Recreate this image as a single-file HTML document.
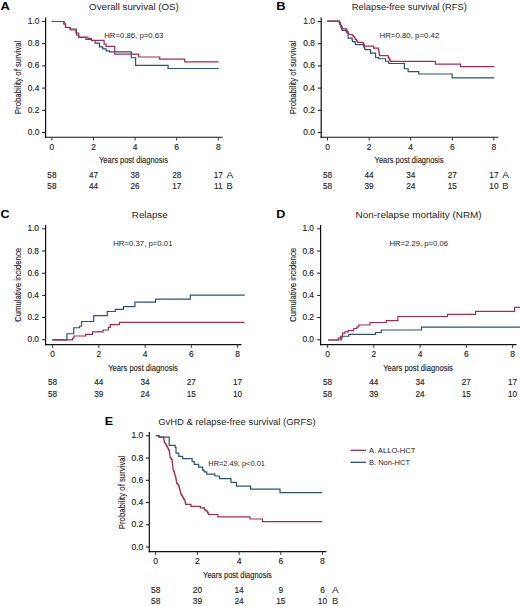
<!DOCTYPE html>
<html><head><meta charset="utf-8"><style>
html,body{margin:0;padding:0;background:#fff;}
svg{display:block;}
text{font-family:"Liberation Sans", sans-serif;}
.b{stroke:#1e1e1e;stroke-width:0.14px;}
</style></head><body>
<svg width="520" height="606" viewBox="0 0 520 606">
<rect width="520" height="606" fill="#fff"/>
<text x="0.42" y="10.00" font-size="11.2" font-weight="bold" fill="#000" textLength="9.37" lengthAdjust="spacingAndGlyphs">A</text>
<text x="89.08" y="10.40" font-size="8.9" font-weight="normal" fill="#1e1e1e" textLength="89.75" lengthAdjust="spacingAndGlyphs">Overall survival (OS)</text>
<text x="104.27" y="38.10" font-size="7.6" font-weight="normal" fill="#1e1e1e" textLength="59.06" lengthAdjust="spacingAndGlyphs">HR=0.86, p=0.63</text>
<line x1="45.60" y1="17.50" x2="45.60" y2="137.90" stroke="#111" stroke-width="1.2"/>
<line x1="45.00" y1="137.30" x2="222.70" y2="137.30" stroke="#111" stroke-width="1.1"/>
<line x1="42.20" y1="21.50" x2="45.60" y2="21.50" stroke="#111" stroke-width="1.0"/>
<text class="b" x="39.30" y="24.00" font-size="8.3" fill="#1e1e1e" text-anchor="end">1.0</text>
<line x1="42.20" y1="43.70" x2="45.60" y2="43.70" stroke="#111" stroke-width="1.0"/>
<text class="b" x="39.30" y="46.20" font-size="8.3" fill="#1e1e1e" text-anchor="end">0.8</text>
<line x1="42.20" y1="65.90" x2="45.60" y2="65.90" stroke="#111" stroke-width="1.0"/>
<text class="b" x="39.30" y="68.40" font-size="8.3" fill="#1e1e1e" text-anchor="end">0.6</text>
<line x1="42.20" y1="88.10" x2="45.60" y2="88.10" stroke="#111" stroke-width="1.0"/>
<text class="b" x="39.30" y="90.60" font-size="8.3" fill="#1e1e1e" text-anchor="end">0.4</text>
<line x1="42.20" y1="110.30" x2="45.60" y2="110.30" stroke="#111" stroke-width="1.0"/>
<text class="b" x="39.30" y="112.80" font-size="8.3" fill="#1e1e1e" text-anchor="end">0.2</text>
<line x1="42.20" y1="132.50" x2="45.60" y2="132.50" stroke="#111" stroke-width="1.0"/>
<text class="b" x="39.30" y="135.00" font-size="8.3" fill="#1e1e1e" text-anchor="end">0.0</text>
<line x1="51.90" y1="137.30" x2="51.90" y2="140.50" stroke="#333" stroke-width="1.0"/>
<text class="b" x="51.90" y="149.80" font-size="8.4" fill="#1e1e1e" text-anchor="middle">0</text>
<line x1="93.50" y1="137.30" x2="93.50" y2="140.50" stroke="#333" stroke-width="1.0"/>
<text class="b" x="93.50" y="149.80" font-size="8.4" fill="#1e1e1e" text-anchor="middle">2</text>
<line x1="135.10" y1="137.30" x2="135.10" y2="140.50" stroke="#333" stroke-width="1.0"/>
<text class="b" x="135.10" y="149.80" font-size="8.4" fill="#1e1e1e" text-anchor="middle">4</text>
<line x1="176.70" y1="137.30" x2="176.70" y2="140.50" stroke="#333" stroke-width="1.0"/>
<text class="b" x="176.70" y="149.80" font-size="8.4" fill="#1e1e1e" text-anchor="middle">6</text>
<line x1="218.30" y1="137.30" x2="218.30" y2="140.50" stroke="#333" stroke-width="1.0"/>
<text class="b" x="218.30" y="149.80" font-size="8.4" fill="#1e1e1e" text-anchor="middle">8</text>
<text class="b" x="20.70" y="77.40" font-size="9.3" fill="#1e1e1e" text-anchor="middle" textLength="73.50" lengthAdjust="spacingAndGlyphs" transform="rotate(-90 20.70 77.40)">Probability of survival</text>
<text class="b" x="98.97" y="163.10" font-size="9.0" font-weight="normal" fill="#1e1e1e" textLength="68.96" lengthAdjust="spacingAndGlyphs">Years post diagnosis</text>
<text class="b" x="51.90" y="177.90" font-size="8.2" fill="#1e1e1e" text-anchor="middle">58</text>
<text class="b" x="93.50" y="177.90" font-size="8.2" fill="#1e1e1e" text-anchor="middle">47</text>
<text class="b" x="135.10" y="177.90" font-size="8.2" fill="#1e1e1e" text-anchor="middle">38</text>
<text class="b" x="176.70" y="177.90" font-size="8.2" fill="#1e1e1e" text-anchor="middle">28</text>
<text class="b" x="218.30" y="177.90" font-size="8.2" fill="#1e1e1e" text-anchor="middle">17</text>
<text x="226.63" y="177.90" font-size="8.2" font-weight="normal" fill="#1e1e1e" textLength="6.75" lengthAdjust="spacingAndGlyphs">A</text>
<text class="b" x="51.90" y="189.10" font-size="8.2" fill="#1e1e1e" text-anchor="middle">58</text>
<text class="b" x="93.50" y="189.10" font-size="8.2" fill="#1e1e1e" text-anchor="middle">44</text>
<text class="b" x="135.10" y="189.10" font-size="8.2" fill="#1e1e1e" text-anchor="middle">26</text>
<text class="b" x="176.70" y="189.10" font-size="8.2" fill="#1e1e1e" text-anchor="middle">17</text>
<text class="b" x="218.30" y="189.10" font-size="8.2" fill="#1e1e1e" text-anchor="middle">11</text>
<text x="226.63" y="189.10" font-size="8.2" font-weight="normal" fill="#1e1e1e" textLength="6.25" lengthAdjust="spacingAndGlyphs">B</text>
<polyline points="52.00,21.50 64.00,21.50 64.00,24.00 65.50,24.00 65.50,27.50 70.00,27.50 70.00,29.00 76.50,29.00 76.50,35.00 78.70,35.00 78.70,37.50 86.00,37.50 86.00,39.50 91.50,39.50 91.50,40.50 95.10,40.50 95.10,43.10 99.40,43.10 99.40,46.90 102.80,46.90 102.80,48.80 106.20,48.80 106.20,50.80 109.40,50.80 109.40,51.90 131.25,51.90 131.25,57.75 135.60,57.75 135.60,65.40 168.10,65.40 168.10,68.50 218.70,68.50 218.70,68.50" fill="none" stroke="#2b5470" stroke-width="1.2" stroke-linejoin="miter" stroke-linecap="butt"/>
<polyline points="52.00,21.50 64.00,21.50 64.00,24.00 65.50,24.00 65.50,27.30 70.40,27.30 70.40,30.00 76.00,30.00 76.00,33.00 78.70,33.00 78.70,37.00 88.00,37.00 88.00,38.50 91.50,38.50 91.50,40.40 104.10,40.40 104.10,44.20 106.00,44.20 106.00,46.40 114.70,46.40 114.70,54.10 138.70,54.10 138.70,57.00 159.70,57.00 159.70,59.10 184.70,59.10 184.70,61.90 218.70,61.90 218.70,61.90" fill="none" stroke="#a82a4e" stroke-width="1.2" stroke-linejoin="miter" stroke-linecap="butt"/>
<text x="276.22" y="10.00" font-size="11.2" font-weight="bold" fill="#000" textLength="9.37" lengthAdjust="spacingAndGlyphs">B</text>
<text x="351.88" y="10.40" font-size="8.9" font-weight="normal" fill="#1e1e1e" textLength="115.00" lengthAdjust="spacingAndGlyphs">Relapse-free survival (RFS)</text>
<text x="379.47" y="38.10" font-size="7.6" font-weight="normal" fill="#1e1e1e" textLength="59.81" lengthAdjust="spacingAndGlyphs">HR=0.80, p=0.42</text>
<line x1="321.20" y1="17.50" x2="321.20" y2="137.90" stroke="#111" stroke-width="1.2"/>
<line x1="320.60" y1="137.30" x2="498.30" y2="137.30" stroke="#111" stroke-width="1.1"/>
<line x1="317.80" y1="21.50" x2="321.20" y2="21.50" stroke="#111" stroke-width="1.0"/>
<text class="b" x="314.90" y="24.00" font-size="8.3" fill="#1e1e1e" text-anchor="end">1.0</text>
<line x1="317.80" y1="43.70" x2="321.20" y2="43.70" stroke="#111" stroke-width="1.0"/>
<text class="b" x="314.90" y="46.20" font-size="8.3" fill="#1e1e1e" text-anchor="end">0.8</text>
<line x1="317.80" y1="65.90" x2="321.20" y2="65.90" stroke="#111" stroke-width="1.0"/>
<text class="b" x="314.90" y="68.40" font-size="8.3" fill="#1e1e1e" text-anchor="end">0.6</text>
<line x1="317.80" y1="88.10" x2="321.20" y2="88.10" stroke="#111" stroke-width="1.0"/>
<text class="b" x="314.90" y="90.60" font-size="8.3" fill="#1e1e1e" text-anchor="end">0.4</text>
<line x1="317.80" y1="110.30" x2="321.20" y2="110.30" stroke="#111" stroke-width="1.0"/>
<text class="b" x="314.90" y="112.80" font-size="8.3" fill="#1e1e1e" text-anchor="end">0.2</text>
<line x1="317.80" y1="132.50" x2="321.20" y2="132.50" stroke="#111" stroke-width="1.0"/>
<text class="b" x="314.90" y="135.00" font-size="8.3" fill="#1e1e1e" text-anchor="end">0.0</text>
<line x1="327.50" y1="137.30" x2="327.50" y2="140.50" stroke="#333" stroke-width="1.0"/>
<text class="b" x="327.50" y="149.80" font-size="8.4" fill="#1e1e1e" text-anchor="middle">0</text>
<line x1="369.10" y1="137.30" x2="369.10" y2="140.50" stroke="#333" stroke-width="1.0"/>
<text class="b" x="369.10" y="149.80" font-size="8.4" fill="#1e1e1e" text-anchor="middle">2</text>
<line x1="410.70" y1="137.30" x2="410.70" y2="140.50" stroke="#333" stroke-width="1.0"/>
<text class="b" x="410.70" y="149.80" font-size="8.4" fill="#1e1e1e" text-anchor="middle">4</text>
<line x1="452.30" y1="137.30" x2="452.30" y2="140.50" stroke="#333" stroke-width="1.0"/>
<text class="b" x="452.30" y="149.80" font-size="8.4" fill="#1e1e1e" text-anchor="middle">6</text>
<line x1="493.90" y1="137.30" x2="493.90" y2="140.50" stroke="#333" stroke-width="1.0"/>
<text class="b" x="493.90" y="149.80" font-size="8.4" fill="#1e1e1e" text-anchor="middle">8</text>
<text class="b" x="296.30" y="77.40" font-size="9.3" fill="#1e1e1e" text-anchor="middle" textLength="73.50" lengthAdjust="spacingAndGlyphs" transform="rotate(-90 296.30 77.40)">Probability of survival</text>
<text class="b" x="374.57" y="163.10" font-size="9.0" font-weight="normal" fill="#1e1e1e" textLength="68.96" lengthAdjust="spacingAndGlyphs">Years post diagnosis</text>
<text class="b" x="327.50" y="177.90" font-size="8.2" fill="#1e1e1e" text-anchor="middle">58</text>
<text class="b" x="369.10" y="177.90" font-size="8.2" fill="#1e1e1e" text-anchor="middle">44</text>
<text class="b" x="410.70" y="177.90" font-size="8.2" fill="#1e1e1e" text-anchor="middle">34</text>
<text class="b" x="452.30" y="177.90" font-size="8.2" fill="#1e1e1e" text-anchor="middle">27</text>
<text class="b" x="493.90" y="177.90" font-size="8.2" fill="#1e1e1e" text-anchor="middle">17</text>
<text x="502.23" y="177.90" font-size="8.2" font-weight="normal" fill="#1e1e1e" textLength="6.75" lengthAdjust="spacingAndGlyphs">A</text>
<text class="b" x="327.50" y="189.10" font-size="8.2" fill="#1e1e1e" text-anchor="middle">58</text>
<text class="b" x="369.10" y="189.10" font-size="8.2" fill="#1e1e1e" text-anchor="middle">39</text>
<text class="b" x="410.70" y="189.10" font-size="8.2" fill="#1e1e1e" text-anchor="middle">24</text>
<text class="b" x="452.30" y="189.10" font-size="8.2" fill="#1e1e1e" text-anchor="middle">15</text>
<text class="b" x="493.90" y="189.10" font-size="8.2" fill="#1e1e1e" text-anchor="middle">10</text>
<text x="502.23" y="189.10" font-size="8.2" font-weight="normal" fill="#1e1e1e" textLength="6.25" lengthAdjust="spacingAndGlyphs">B</text>
<polyline points="327.20,21.10 338.70,21.10 339.27,21.10 339.27,22.65 339.83,22.65 339.83,24.20 340.40,24.20 340.40,25.75 340.97,25.75 340.97,27.30 341.53,27.30 341.53,28.85 342.10,28.85 342.10,30.40 345.10,30.40 346.10,30.40 346.10,31.77 347.10,31.77 347.10,33.13 348.10,33.13 348.10,34.50 348.10,38.20 351.80,38.20 352.03,38.20 352.03,39.33 352.27,39.33 352.27,40.47 352.50,40.47 352.50,41.60 355.20,41.60 355.20,42.60 355.35,42.60 355.35,43.60 355.50,43.60 355.50,44.60 362.90,44.60 363.42,44.60 363.42,45.85 363.95,45.85 363.95,47.10 364.48,47.10 364.48,48.35 365.00,48.35 365.00,49.60 370.60,49.60 370.60,53.10 375.60,53.10 375.60,57.50 378.75,57.50 378.75,58.75 385.60,58.75 385.60,61.25 388.75,61.25 388.75,63.50 404.40,63.50 404.40,68.75 408.10,68.75 408.10,71.60 418.75,71.60 418.75,74.00 452.10,74.00 452.10,77.85 494.30,77.85" fill="none" stroke="#2b5470" stroke-width="1.2" stroke-linejoin="miter" stroke-linecap="butt"/>
<polyline points="327.20,21.10 338.70,21.10 339.44,21.10 339.44,22.64 340.18,22.64 340.18,24.18 340.92,24.18 340.92,25.72 341.66,25.72 341.66,27.26 342.40,27.26 342.40,28.80 345.80,28.80 346.55,28.80 346.55,30.23 347.30,30.23 347.30,31.65 348.05,31.65 348.05,33.08 348.80,33.08 348.80,34.50 351.20,34.50 352.20,34.50 352.20,35.50 353.20,35.50 353.20,36.50 354.27,36.50 354.27,37.98 355.35,37.98 355.35,39.45 356.43,39.45 356.43,40.92 357.50,40.92 357.50,42.40 362.60,42.40 363.20,42.40 363.20,43.63 363.80,43.63 363.80,44.87 364.40,44.87 364.40,46.10 373.60,46.10 373.60,48.20 378.30,48.20 378.54,48.20 378.54,49.68 378.78,49.68 378.78,51.16 379.02,51.16 379.02,52.64 379.26,52.64 379.26,54.12 379.50,54.12 379.50,55.60 387.80,55.60 388.15,55.60 388.15,56.90 388.50,56.90 388.50,58.20 389.50,58.20 389.50,59.80 390.50,59.80 390.50,61.40 435.40,61.40 435.40,64.10 460.40,64.10 460.40,66.60 494.30,66.60" fill="none" stroke="#a82a4e" stroke-width="1.2" stroke-linejoin="miter" stroke-linecap="butt"/>
<text x="0.42" y="217.50" font-size="11.2" font-weight="bold" fill="#000" textLength="9.07" lengthAdjust="spacingAndGlyphs">C</text>
<text x="131.88" y="218.00" font-size="8.9" font-weight="normal" fill="#1e1e1e" textLength="35.75" lengthAdjust="spacingAndGlyphs">Relapse</text>
<text x="113.22" y="245.60" font-size="7.6" font-weight="normal" fill="#1e1e1e" textLength="59.31" lengthAdjust="spacingAndGlyphs">HR=0.37, p=0.01</text>
<line x1="45.60" y1="225.00" x2="45.60" y2="345.20" stroke="#111" stroke-width="1.2"/>
<line x1="45.00" y1="344.60" x2="241.50" y2="344.60" stroke="#111" stroke-width="1.1"/>
<line x1="42.20" y1="228.80" x2="45.60" y2="228.80" stroke="#111" stroke-width="1.0"/>
<text class="b" x="39.00" y="231.30" font-size="8.3" fill="#1e1e1e" text-anchor="end">1.0</text>
<line x1="42.20" y1="251.00" x2="45.60" y2="251.00" stroke="#111" stroke-width="1.0"/>
<text class="b" x="39.00" y="253.50" font-size="8.3" fill="#1e1e1e" text-anchor="end">0.8</text>
<line x1="42.20" y1="273.20" x2="45.60" y2="273.20" stroke="#111" stroke-width="1.0"/>
<text class="b" x="39.00" y="275.70" font-size="8.3" fill="#1e1e1e" text-anchor="end">0.6</text>
<line x1="42.20" y1="295.40" x2="45.60" y2="295.40" stroke="#111" stroke-width="1.0"/>
<text class="b" x="39.00" y="297.90" font-size="8.3" fill="#1e1e1e" text-anchor="end">0.4</text>
<line x1="42.20" y1="317.60" x2="45.60" y2="317.60" stroke="#111" stroke-width="1.0"/>
<text class="b" x="39.00" y="320.10" font-size="8.3" fill="#1e1e1e" text-anchor="end">0.2</text>
<line x1="42.20" y1="339.80" x2="45.60" y2="339.80" stroke="#111" stroke-width="1.0"/>
<text class="b" x="39.00" y="342.30" font-size="8.3" fill="#1e1e1e" text-anchor="end">0.0</text>
<line x1="52.60" y1="344.60" x2="52.60" y2="347.80" stroke="#333" stroke-width="1.0"/>
<text class="b" x="52.60" y="357.30" font-size="8.4" fill="#1e1e1e" text-anchor="middle">0</text>
<line x1="98.85" y1="344.60" x2="98.85" y2="347.80" stroke="#333" stroke-width="1.0"/>
<text class="b" x="98.85" y="357.30" font-size="8.4" fill="#1e1e1e" text-anchor="middle">2</text>
<line x1="145.10" y1="344.60" x2="145.10" y2="347.80" stroke="#333" stroke-width="1.0"/>
<text class="b" x="145.10" y="357.30" font-size="8.4" fill="#1e1e1e" text-anchor="middle">4</text>
<line x1="191.35" y1="344.60" x2="191.35" y2="347.80" stroke="#333" stroke-width="1.0"/>
<text class="b" x="191.35" y="357.30" font-size="8.4" fill="#1e1e1e" text-anchor="middle">6</text>
<line x1="237.60" y1="344.60" x2="237.60" y2="347.80" stroke="#333" stroke-width="1.0"/>
<text class="b" x="237.60" y="357.30" font-size="8.4" fill="#1e1e1e" text-anchor="middle">8</text>
<text class="b" x="21.00" y="284.90" font-size="9.3" fill="#1e1e1e" text-anchor="middle" textLength="74.20" lengthAdjust="spacingAndGlyphs" transform="rotate(-90 21.00 284.90)">Cumulative incidence</text>
<text class="b" x="108.17" y="371.00" font-size="9.0" font-weight="normal" fill="#1e1e1e" textLength="69.76" lengthAdjust="spacingAndGlyphs">Years post diagnosis</text>
<text class="b" x="52.60" y="385.20" font-size="8.2" fill="#1e1e1e" text-anchor="middle">58</text>
<text class="b" x="98.85" y="385.20" font-size="8.2" fill="#1e1e1e" text-anchor="middle">44</text>
<text class="b" x="145.10" y="385.20" font-size="8.2" fill="#1e1e1e" text-anchor="middle">34</text>
<text class="b" x="191.35" y="385.20" font-size="8.2" fill="#1e1e1e" text-anchor="middle">27</text>
<text class="b" x="237.60" y="385.20" font-size="8.2" fill="#1e1e1e" text-anchor="middle">17</text>
<text class="b" x="52.60" y="396.80" font-size="8.2" fill="#1e1e1e" text-anchor="middle">58</text>
<text class="b" x="98.85" y="396.80" font-size="8.2" fill="#1e1e1e" text-anchor="middle">39</text>
<text class="b" x="145.10" y="396.80" font-size="8.2" fill="#1e1e1e" text-anchor="middle">24</text>
<text class="b" x="191.35" y="396.80" font-size="8.2" fill="#1e1e1e" text-anchor="middle">15</text>
<text class="b" x="237.60" y="396.80" font-size="8.2" fill="#1e1e1e" text-anchor="middle">10</text>
<polyline points="52.30,339.80 66.90,339.80 66.90,333.75 73.75,333.75 73.75,327.75 79.50,327.75 79.50,326.25 81.50,326.25 81.50,321.50 93.75,321.50 93.75,315.60 107.30,315.60 107.30,311.50 115.25,311.50 115.25,309.40 123.50,309.40 123.50,306.60 135.00,306.60 135.00,302.10 155.60,302.10 155.60,299.20 190.30,299.20 190.30,295.20 244.70,295.20 244.70,295.20" fill="none" stroke="#2b5470" stroke-width="1.2" stroke-linejoin="miter" stroke-linecap="butt"/>
<polyline points="52.30,339.80 72.50,339.80 72.50,338.00 74.00,338.00 74.00,336.00 85.60,336.00 85.60,334.40 92.50,334.40 92.50,331.90 103.10,331.90 103.10,330.00 108.30,330.00 108.30,327.30 110.30,327.30 110.30,324.70 119.40,324.70 119.40,322.30 244.50,322.30 244.50,322.30" fill="none" stroke="#a82a4e" stroke-width="1.2" stroke-linejoin="miter" stroke-linecap="butt"/>
<text x="276.22" y="217.50" font-size="11.2" font-weight="bold" fill="#000" textLength="9.07" lengthAdjust="spacingAndGlyphs">D</text>
<text x="355.63" y="218.00" font-size="8.9" font-weight="normal" fill="#1e1e1e" textLength="126.00" lengthAdjust="spacingAndGlyphs">Non-relapse mortality (NRM)</text>
<text x="389.47" y="245.60" font-size="7.6" font-weight="normal" fill="#1e1e1e" textLength="58.56" lengthAdjust="spacingAndGlyphs">HR=2.29, p=0.06</text>
<line x1="320.60" y1="225.00" x2="320.60" y2="345.20" stroke="#111" stroke-width="1.2"/>
<line x1="320.00" y1="344.60" x2="516.50" y2="344.60" stroke="#111" stroke-width="1.1"/>
<line x1="317.20" y1="228.80" x2="320.60" y2="228.80" stroke="#111" stroke-width="1.0"/>
<text class="b" x="314.00" y="231.30" font-size="8.3" fill="#1e1e1e" text-anchor="end">1.0</text>
<line x1="317.20" y1="251.00" x2="320.60" y2="251.00" stroke="#111" stroke-width="1.0"/>
<text class="b" x="314.00" y="253.50" font-size="8.3" fill="#1e1e1e" text-anchor="end">0.8</text>
<line x1="317.20" y1="273.20" x2="320.60" y2="273.20" stroke="#111" stroke-width="1.0"/>
<text class="b" x="314.00" y="275.70" font-size="8.3" fill="#1e1e1e" text-anchor="end">0.6</text>
<line x1="317.20" y1="295.40" x2="320.60" y2="295.40" stroke="#111" stroke-width="1.0"/>
<text class="b" x="314.00" y="297.90" font-size="8.3" fill="#1e1e1e" text-anchor="end">0.4</text>
<line x1="317.20" y1="317.60" x2="320.60" y2="317.60" stroke="#111" stroke-width="1.0"/>
<text class="b" x="314.00" y="320.10" font-size="8.3" fill="#1e1e1e" text-anchor="end">0.2</text>
<line x1="317.20" y1="339.80" x2="320.60" y2="339.80" stroke="#111" stroke-width="1.0"/>
<text class="b" x="314.00" y="342.30" font-size="8.3" fill="#1e1e1e" text-anchor="end">0.0</text>
<line x1="327.60" y1="344.60" x2="327.60" y2="347.80" stroke="#333" stroke-width="1.0"/>
<text class="b" x="327.60" y="357.30" font-size="8.4" fill="#1e1e1e" text-anchor="middle">0</text>
<line x1="373.85" y1="344.60" x2="373.85" y2="347.80" stroke="#333" stroke-width="1.0"/>
<text class="b" x="373.85" y="357.30" font-size="8.4" fill="#1e1e1e" text-anchor="middle">2</text>
<line x1="420.10" y1="344.60" x2="420.10" y2="347.80" stroke="#333" stroke-width="1.0"/>
<text class="b" x="420.10" y="357.30" font-size="8.4" fill="#1e1e1e" text-anchor="middle">4</text>
<line x1="466.35" y1="344.60" x2="466.35" y2="347.80" stroke="#333" stroke-width="1.0"/>
<text class="b" x="466.35" y="357.30" font-size="8.4" fill="#1e1e1e" text-anchor="middle">6</text>
<line x1="512.60" y1="344.60" x2="512.60" y2="347.80" stroke="#333" stroke-width="1.0"/>
<text class="b" x="512.60" y="357.30" font-size="8.4" fill="#1e1e1e" text-anchor="middle">8</text>
<text class="b" x="296.00" y="284.90" font-size="9.3" fill="#1e1e1e" text-anchor="middle" textLength="74.20" lengthAdjust="spacingAndGlyphs" transform="rotate(-90 296.00 284.90)">Cumulative incidence</text>
<text class="b" x="383.17" y="371.00" font-size="9.0" font-weight="normal" fill="#1e1e1e" textLength="69.76" lengthAdjust="spacingAndGlyphs">Years post diagnosis</text>
<text class="b" x="327.60" y="385.20" font-size="8.2" fill="#1e1e1e" text-anchor="middle">58</text>
<text class="b" x="373.85" y="385.20" font-size="8.2" fill="#1e1e1e" text-anchor="middle">44</text>
<text class="b" x="420.10" y="385.20" font-size="8.2" fill="#1e1e1e" text-anchor="middle">34</text>
<text class="b" x="466.35" y="385.20" font-size="8.2" fill="#1e1e1e" text-anchor="middle">27</text>
<text class="b" x="512.60" y="385.20" font-size="8.2" fill="#1e1e1e" text-anchor="middle">17</text>
<text class="b" x="327.60" y="396.80" font-size="8.2" fill="#1e1e1e" text-anchor="middle">58</text>
<text class="b" x="373.85" y="396.80" font-size="8.2" fill="#1e1e1e" text-anchor="middle">39</text>
<text class="b" x="420.10" y="396.80" font-size="8.2" fill="#1e1e1e" text-anchor="middle">24</text>
<text class="b" x="466.35" y="396.80" font-size="8.2" fill="#1e1e1e" text-anchor="middle">15</text>
<text class="b" x="512.60" y="396.80" font-size="8.2" fill="#1e1e1e" text-anchor="middle">10</text>
<polyline points="328.10,340.00 341.25,340.00 341.25,338.10 342.00,338.10 342.00,336.25 348.75,336.25 348.75,334.40 375.60,334.40 375.60,332.50 381.25,332.50 381.25,330.00 421.50,330.00 421.50,327.20 521.00,327.20 521.00,327.20" fill="none" stroke="#2b5470" stroke-width="1.2" stroke-linejoin="miter" stroke-linecap="butt"/>
<polyline points="328.10,340.00 338.10,340.00 338.10,338.10 340.60,338.10 340.60,336.25 342.50,336.25 342.50,333.10 345.00,333.10 345.00,331.90 348.10,331.90 348.10,330.60 353.75,330.60 353.75,328.50 356.90,328.50 356.90,326.90 358.75,326.90 358.75,325.00 370.00,325.00 370.00,322.50 386.25,322.50 386.25,320.60 397.90,320.60 397.90,316.50 447.50,316.50 447.50,314.30 475.60,314.30 475.60,311.40 514.60,311.40 514.60,307.30 521.00,307.30 521.00,307.30" fill="none" stroke="#a82a4e" stroke-width="1.2" stroke-linejoin="miter" stroke-linecap="butt"/>
<text x="104.72" y="425.20" font-size="11.2" font-weight="bold" fill="#000" textLength="8.27" lengthAdjust="spacingAndGlyphs">E</text>
<text x="158.18" y="425.30" font-size="8.9" font-weight="normal" fill="#1e1e1e" textLength="157.45" lengthAdjust="spacingAndGlyphs">GvHD &amp; relapse-free survival (GRFS)</text>
<text x="208.27" y="466.20" font-size="7.6" font-weight="normal" fill="#1e1e1e" textLength="56.66" lengthAdjust="spacingAndGlyphs">HR=2.49, p&lt;0.01</text>
<line x1="149.30" y1="432.00" x2="149.30" y2="552.20" stroke="#111" stroke-width="1.2"/>
<line x1="148.70" y1="551.60" x2="326.50" y2="551.60" stroke="#111" stroke-width="1.1"/>
<line x1="145.90" y1="435.80" x2="149.30" y2="435.80" stroke="#111" stroke-width="1.0"/>
<text class="b" x="143.40" y="438.30" font-size="8.6" fill="#1e1e1e" text-anchor="end">1.0</text>
<line x1="145.90" y1="458.05" x2="149.30" y2="458.05" stroke="#111" stroke-width="1.0"/>
<text class="b" x="143.40" y="460.55" font-size="8.6" fill="#1e1e1e" text-anchor="end">0.8</text>
<line x1="145.90" y1="480.30" x2="149.30" y2="480.30" stroke="#111" stroke-width="1.0"/>
<text class="b" x="143.40" y="482.80" font-size="8.6" fill="#1e1e1e" text-anchor="end">0.6</text>
<line x1="145.90" y1="502.55" x2="149.30" y2="502.55" stroke="#111" stroke-width="1.0"/>
<text class="b" x="143.40" y="505.05" font-size="8.6" fill="#1e1e1e" text-anchor="end">0.4</text>
<line x1="145.90" y1="524.80" x2="149.30" y2="524.80" stroke="#111" stroke-width="1.0"/>
<text class="b" x="143.40" y="527.30" font-size="8.6" fill="#1e1e1e" text-anchor="end">0.2</text>
<line x1="145.90" y1="547.05" x2="149.30" y2="547.05" stroke="#111" stroke-width="1.0"/>
<text class="b" x="143.40" y="549.55" font-size="8.6" fill="#1e1e1e" text-anchor="end">0.0</text>
<line x1="155.70" y1="551.60" x2="155.70" y2="554.80" stroke="#333" stroke-width="1.0"/>
<text class="b" x="155.70" y="564.20" font-size="8.6" fill="#1e1e1e" text-anchor="middle">0</text>
<line x1="197.40" y1="551.60" x2="197.40" y2="554.80" stroke="#333" stroke-width="1.0"/>
<text class="b" x="197.40" y="564.20" font-size="8.6" fill="#1e1e1e" text-anchor="middle">2</text>
<line x1="239.10" y1="551.60" x2="239.10" y2="554.80" stroke="#333" stroke-width="1.0"/>
<text class="b" x="239.10" y="564.20" font-size="8.6" fill="#1e1e1e" text-anchor="middle">4</text>
<line x1="280.80" y1="551.60" x2="280.80" y2="554.80" stroke="#333" stroke-width="1.0"/>
<text class="b" x="280.80" y="564.20" font-size="8.6" fill="#1e1e1e" text-anchor="middle">6</text>
<line x1="322.50" y1="551.60" x2="322.50" y2="554.80" stroke="#333" stroke-width="1.0"/>
<text class="b" x="322.50" y="564.20" font-size="8.6" fill="#1e1e1e" text-anchor="middle">8</text>
<text class="b" x="124.90" y="492.40" font-size="9.3" fill="#1e1e1e" text-anchor="middle" textLength="73.50" lengthAdjust="spacingAndGlyphs" transform="rotate(-90 124.90 492.40)">Probability of survival</text>
<text class="b" x="203.12" y="578.20" font-size="9.0" font-weight="normal" fill="#1e1e1e" textLength="68.76" lengthAdjust="spacingAndGlyphs">Years post diagnosis</text>
<text class="b" x="155.70" y="592.90" font-size="8.4" fill="#1e1e1e" text-anchor="middle">58</text>
<text class="b" x="197.40" y="592.90" font-size="8.4" fill="#1e1e1e" text-anchor="middle">20</text>
<text class="b" x="239.10" y="592.90" font-size="8.4" fill="#1e1e1e" text-anchor="middle">14</text>
<text class="b" x="280.80" y="592.90" font-size="8.4" fill="#1e1e1e" text-anchor="middle">9</text>
<text class="b" x="322.50" y="592.90" font-size="8.4" fill="#1e1e1e" text-anchor="middle">6</text>
<text x="331.91" y="592.90" font-size="8.4" font-weight="normal" fill="#1e1e1e" textLength="6.68" lengthAdjust="spacingAndGlyphs">A</text>
<text class="b" x="155.70" y="604.40" font-size="8.4" fill="#1e1e1e" text-anchor="middle">58</text>
<text class="b" x="197.40" y="604.40" font-size="8.4" fill="#1e1e1e" text-anchor="middle">39</text>
<text class="b" x="239.10" y="604.40" font-size="8.4" fill="#1e1e1e" text-anchor="middle">24</text>
<text class="b" x="280.80" y="604.40" font-size="8.4" fill="#1e1e1e" text-anchor="middle">15</text>
<text class="b" x="322.50" y="604.40" font-size="8.4" fill="#1e1e1e" text-anchor="middle">10</text>
<text x="331.91" y="604.40" font-size="8.4" font-weight="normal" fill="#1e1e1e" textLength="6.18" lengthAdjust="spacingAndGlyphs">B</text>
<polyline points="155.80,435.60 159.00,435.60 159.00,437.20 169.20,437.20 169.20,445.40 175.20,445.40 175.20,447.30 176.00,447.30 176.00,453.10 178.80,453.10 178.80,456.40 182.60,456.40 182.60,458.70 192.10,458.70 192.10,461.50 194.20,461.50 194.20,464.40 198.70,464.40 198.70,467.20 202.70,467.20 202.70,470.10 204.20,470.10 204.20,471.90 206.80,471.90 206.80,474.10 214.90,474.10 214.90,476.00 219.50,476.00 219.50,478.70 231.00,478.70 231.00,482.30 236.50,482.30 236.50,486.10 250.60,486.10 250.60,489.10 280.00,489.10 280.00,492.70 322.30,492.70 322.30,492.70" fill="none" stroke="#2b5470" stroke-width="1.2" stroke-linejoin="miter" stroke-linecap="butt"/>
<polyline points="155.80,435.60 159.10,435.60 159.10,437.20 163.50,437.20 163.72,437.20 163.72,438.52 163.95,438.52 163.95,439.85 164.18,439.85 164.18,441.18 164.40,441.18 164.40,442.50 165.12,442.50 165.12,443.70 165.85,443.70 165.85,444.90 166.58,444.90 166.58,446.10 167.30,446.10 167.30,447.30 167.93,447.30 167.93,448.60 168.57,448.60 168.57,449.90 169.20,449.90 169.20,451.20 169.40,451.20 169.40,452.54 169.60,452.54 169.60,453.88 169.80,453.88 169.80,455.22 170.00,455.22 170.00,456.56 170.20,456.56 170.20,457.90 171.15,457.90 171.15,459.35 172.10,459.35 172.10,460.80 172.27,460.80 172.27,462.33 172.43,462.33 172.43,463.87 172.60,463.87 172.60,465.40 172.77,465.40 172.77,466.93 172.93,466.93 172.93,468.47 173.10,468.47 173.10,470.00 173.60,470.00 173.60,471.05 174.10,471.05 174.10,472.10 174.46,472.10 174.46,473.44 174.82,473.44 174.82,474.78 175.18,474.78 175.18,476.12 175.54,476.12 175.54,477.46 175.90,477.46 175.90,478.80 176.12,478.80 176.12,480.00 176.35,480.00 176.35,481.20 176.58,481.20 176.58,482.40 176.80,482.40 176.80,483.60 177.80,483.60 177.80,484.90 178.80,484.90 178.80,486.20 179.15,486.20 179.15,487.55 179.50,487.55 179.50,488.90 179.85,488.90 179.85,490.25 180.20,490.25 180.20,491.60 180.55,491.60 180.55,492.95 180.90,492.95 180.90,494.30 181.57,494.30 181.57,495.43 182.23,495.43 182.23,496.57 182.90,496.57 182.90,497.70 183.57,497.70 183.57,498.80 184.23,498.80 184.23,499.90 184.90,499.90 184.90,501.00 185.13,501.00 185.13,502.13 185.37,502.13 185.37,503.27 185.60,503.27 185.60,504.40 191.00,504.40 191.00,506.40 200.40,506.40 200.40,507.80 204.40,507.80 204.40,509.80 205.75,509.80 205.75,510.80 207.10,510.80 207.10,511.80 207.80,511.80 207.80,513.15 208.50,513.15 208.50,514.50 217.90,514.50 217.90,516.90 250.00,516.90 250.00,519.00 262.50,519.00 262.50,521.70 322.30,521.70" fill="none" stroke="#a82a4e" stroke-width="1.2" stroke-linejoin="miter" stroke-linecap="butt"/>
<line x1="350.50" y1="450.30" x2="366.00" y2="450.30" stroke="#a82a4e" stroke-width="1.3"/>
<line x1="350.50" y1="462.30" x2="366.00" y2="462.30" stroke="#2b5470" stroke-width="1.3"/>
<text x="368.95" y="453.10" font-size="7.8" font-weight="normal" fill="#1e1e1e" textLength="46.59" lengthAdjust="spacingAndGlyphs">A. ALLO-HCT</text>
<text x="368.95" y="465.10" font-size="7.8" font-weight="normal" fill="#1e1e1e" textLength="41.09" lengthAdjust="spacingAndGlyphs">B. Non-HCT</text>
</svg>
</body></html>
